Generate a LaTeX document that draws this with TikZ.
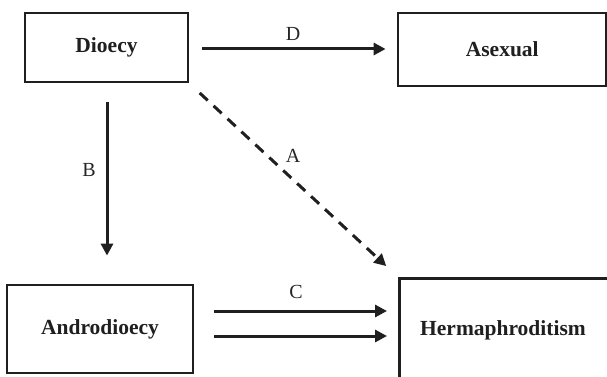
\documentclass[tikz,border=0pt]{standalone}
\usepackage{fontspec}
\setmainfont{Liberation Serif}
\usetikzlibrary{arrows.meta,calc}
\begin{document}
\begin{tikzpicture}[x=1pt,y=-1pt,
  box/.style={draw=black!88, line width=2.8pt, rectangle, inner sep=0pt,
              font=\fontsize{21.5}{25}\selectfont\bfseries, text=black!88},
  lbl/.style={inner sep=0pt, anchor=base, font=\fontsize{20}{23}\selectfont, text=black!85},
  arr/.style={draw=black!88, line width=3pt, -{Triangle[length=12pt,width=12pt]}},
  darr/.style={arr, dash pattern=on 11pt off 8pt}]
\useasboundingbox (0,0) rectangle (607,377);
\clip (0,0) rectangle (607,377);
% boxes
\node[box, minimum width=163pt, minimum height=69pt] (dio) at (106.5,47.5) {Dioecy};
\node[box, minimum width=208.5pt, minimum height=73pt] (asx) at (502.25,49.5) {Asexual};
\node[box, minimum width=186pt, minimum height=88pt] (andro) at (100,329) {Androdioecy};
\node[box, minimum width=212pt, minimum height=140pt, anchor=north west] (herm) at (398,277) {};
\node[box, draw=none, anchor=base] (hermtxt) at (503,335) {Hermaphroditism};
% connectors
\coordinate (d1) at ($(dio.east)+(0,1.5)$);
\coordinate (d2) at (d1 -| asx.west);
\draw[arr, shorten <=13pt, shorten >=11pt] (d1) -- (d2);
\coordinate (b1) at ($(dio.south)+(0.5,0)$);
\coordinate (b2) at (b1 |- andro.north);
\draw[arr, shorten <=19pt, shorten >=28pt] (b1) -- (b2);
\draw[darr, shorten <=14pt, shorten >=16pt] (dio.south east) -- (herm.north west);
\coordinate (c1) at ($(andro.east)+(0,-18)$);
\coordinate (c2) at (c1 -| herm.west);
\coordinate (c3) at ($(andro.east)+(0,7)$);
\coordinate (c4) at (c3 -| herm.west);
\draw[arr, shorten <=20pt, shorten >=11pt] (c1) -- (c2);
\draw[arr, shorten <=20pt, shorten >=11pt] (c3) -- (c4);
% labels
\node[lbl] (lD) at (293,41) {D};
\node[lbl] (lA) at (293,162) {A};
\node[lbl] (lB) at (89,176) {B};
\node[lbl] (lC) at (296,298) {C};
\end{tikzpicture}
\end{document}
